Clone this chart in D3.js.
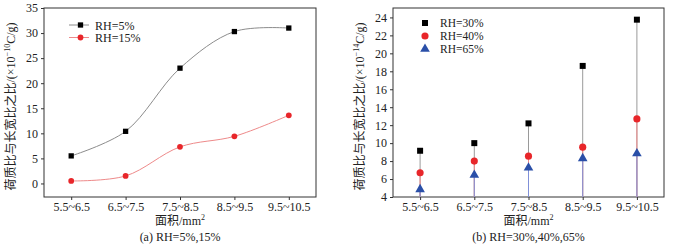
<!DOCTYPE html>
<html>
<head>
<meta charset="utf-8">
<script src="https://cdn.jsdelivr.net/npm/d3@7"></script>
<style>
  body { margin: 0; background: #fff; }
  svg text { font-family: "Liberation Serif", "Noto Sans CJK SC", serif; }
</style>
</head>
<body>
<div id="chart"></div>
<script>
// categories on x
const areas = ["5.5~6.5", "6.5~7.5", "7.5~8.5", "8.5~9.5", "9.5~10.5"];

// panel (a)
const rh5 = [5.5, 10.4, 23.0, 30.3, 31.0];
const rh15 = [0.5, 1.5, 7.3, 9.4, 13.6];
const ticksA = [0, 5, 10, 15, 20, 25, 30, 35];

// panel (b)
const rh30 = [9.15, 10.0, 12.2, 18.6, 23.75];
const rh40 = [6.7, 8.0, 8.55, 9.55, 12.7];
const rh65 = [4.85, 6.45, 7.25, 8.3, 8.85];
const ticksB = [4, 6, 8, 10, 12, 14, 16, 18, 20, 22, 24];

const W = 674, H = 246;
const svg = d3.select("#chart").append("svg")
    .attr("width", W).attr("height", H);

function frame(g, x, y, width, height, ticks, ytitle, caption) {
    g.append("rect")
        .attr("x", 0).attr("y", 0)
        .attr("width", width).attr("height", height)
        .attr("fill", "none").attr("stroke", "#333").attr("stroke-width", 1);

    const ya = g.append("g")
        .call(d3.axisLeft(y).tickValues(ticks).tickSize(3).tickPadding(3));
    const xa = g.append("g")
        .attr("transform", "translate(0," + height + ")")
        .call(d3.axisBottom(x).tickSize(3).tickPadding(2));
    [ya, xa].forEach(a => {
        a.select(".domain").remove();
        a.selectAll("line").attr("stroke", "#333");
        a.selectAll("text").attr("font-size", 12).attr("fill", "#222")
            .attr("font-family", "Liberation Serif, serif");
    });

    g.append("text")
        .attr("transform", "translate(-29," + (height / 2 + 4) + ") rotate(-90)")
        .attr("text-anchor", "middle")
        .attr("font-size", 12).attr("fill", "#222")
        .html(ytitle);

    g.append("text")
        .attr("x", width / 2).attr("y", height + 28)
        .attr("text-anchor", "middle")
        .attr("font-size", 12).attr("fill", "#222")
        .html('面积/mm<tspan dy="-5" font-size="8">2</tspan>');

    g.append("text")
        .attr("x", width / 2).attr("y", height + 44)
        .attr("text-anchor", "middle")
        .attr("font-size", 12).attr("fill", "#222")
        .text(caption);
}

// ---------- panel (a)
{
    const m = {left: 44, top: 8}, width = 272, height = 189;
    const g = svg.append("g").attr("transform", "translate(" + m.left + "," + m.top + ")");
    const x = d3.scalePoint().domain(areas).range([0, width]).padding(0.5);
    const y = d3.scaleLinear().domain([-2.7, 35]).range([height, 0]);

    frame(g, x, y, width, height, ticksA,
        '荷质比与长宽比之比/(×10<tspan dy="-5" font-size="8">−10</tspan><tspan dy="5">C/g)</tspan>',
        "(a) RH=5%,15%");

    const series = [
        {name: "RH=5%", values: rh5, line: "#8c8c8c", mark: "#000", shape: d3.symbolSquare, size: 28},
        {name: "RH=15%", values: rh15, line: "#ee8a8a", mark: "#e8262a", shape: d3.symbolCircle, size: 26}
    ];
    const line = d3.line()
        .x((d, i) => x(areas[i]))
        .y(d => y(d))
        .curve(d3.curveCatmullRom.alpha(0.5));

    series.forEach((s, k) => {
        g.append("path")
            .datum(s.values)
            .attr("fill", "none").attr("stroke", s.line).attr("stroke-width", 1)
            .attr("d", line);
        g.selectAll(".m" + k).data(s.values).join("path")
            .attr("transform", (d, i) => "translate(" + x(areas[i]) + "," + y(d) + ")")
            .attr("d", d3.symbol(s.shape, s.size))
            .attr("fill", s.mark);

        const ly = 17 + k * 12.5;
        g.append("line").attr("x1", 25).attr("x2", 45).attr("y1", ly).attr("y2", ly)
            .attr("stroke", s.line).attr("stroke-width", 1);
        g.append("path").attr("transform", "translate(36.5," + ly + ")")
            .attr("d", d3.symbol(s.shape, s.size)).attr("fill", s.mark);
        g.append("text").attr("x", 51).attr("y", ly + 4.5)
            .attr("font-size", 12).attr("fill", "#222").text(s.name);
    });
}

// ---------- panel (b)
{
    const m = {left: 393, top: 8}, width = 271, height = 189;
    const g = svg.append("g").attr("transform", "translate(" + m.left + "," + m.top + ")");
    const x = d3.scalePoint().domain(areas).range([0, width]).padding(0.5);
    const y = d3.scaleLinear().domain([4, 25.05]).range([height, 0]);

    frame(g, x, y, width, height, ticksB,
        '荷质比与长宽比之比/(×10<tspan dy="-5" font-size="8">−14</tspan><tspan dy="5">C/g)</tspan>',
        "(b) RH=30%,40%,65%");

    const series = [
        {name: "RH=30%", values: rh30, line: "#9a9a9a", mark: "#000", shape: d3.symbolSquare, size: 36},
        {name: "RH=40%", values: rh40, line: "#f08a8a", mark: "#e8262a", shape: d3.symbolCircle, size: 40},
        {name: "RH=65%", values: rh65, line: "#8090d8", mark: "#2a4fa8", shape: d3.symbolTriangle, size: 40}
    ];

    // drop lines to the bottom axis
    series.forEach((s, k) => {
        g.selectAll(".d" + k).data(s.values).join("line")
            .attr("x1", (d, i) => x(areas[i])).attr("x2", (d, i) => x(areas[i]))
            .attr("y1", d => y(d)).attr("y2", height)
            .attr("stroke", s.line).attr("stroke-width", 1);
    });
    series.forEach((s, k) => {
        g.selectAll(".m" + k).data(s.values).join("path")
            .attr("transform", (d, i) => "translate(" + x(areas[i]) + "," + y(d) + ")")
            .attr("d", d3.symbol(s.shape, s.size))
            .attr("fill", s.mark);

        const ly = 15 + k * 13;
        g.append("path").attr("transform", "translate(32," + ly + ")")
            .attr("d", d3.symbol(s.shape, s.size)).attr("fill", s.mark);
        g.append("text").attr("x", 47).attr("y", ly + 4)
            .attr("font-size", 11.5).attr("fill", "#222").text(s.name);
    });
}
</script>
</body>
</html>
